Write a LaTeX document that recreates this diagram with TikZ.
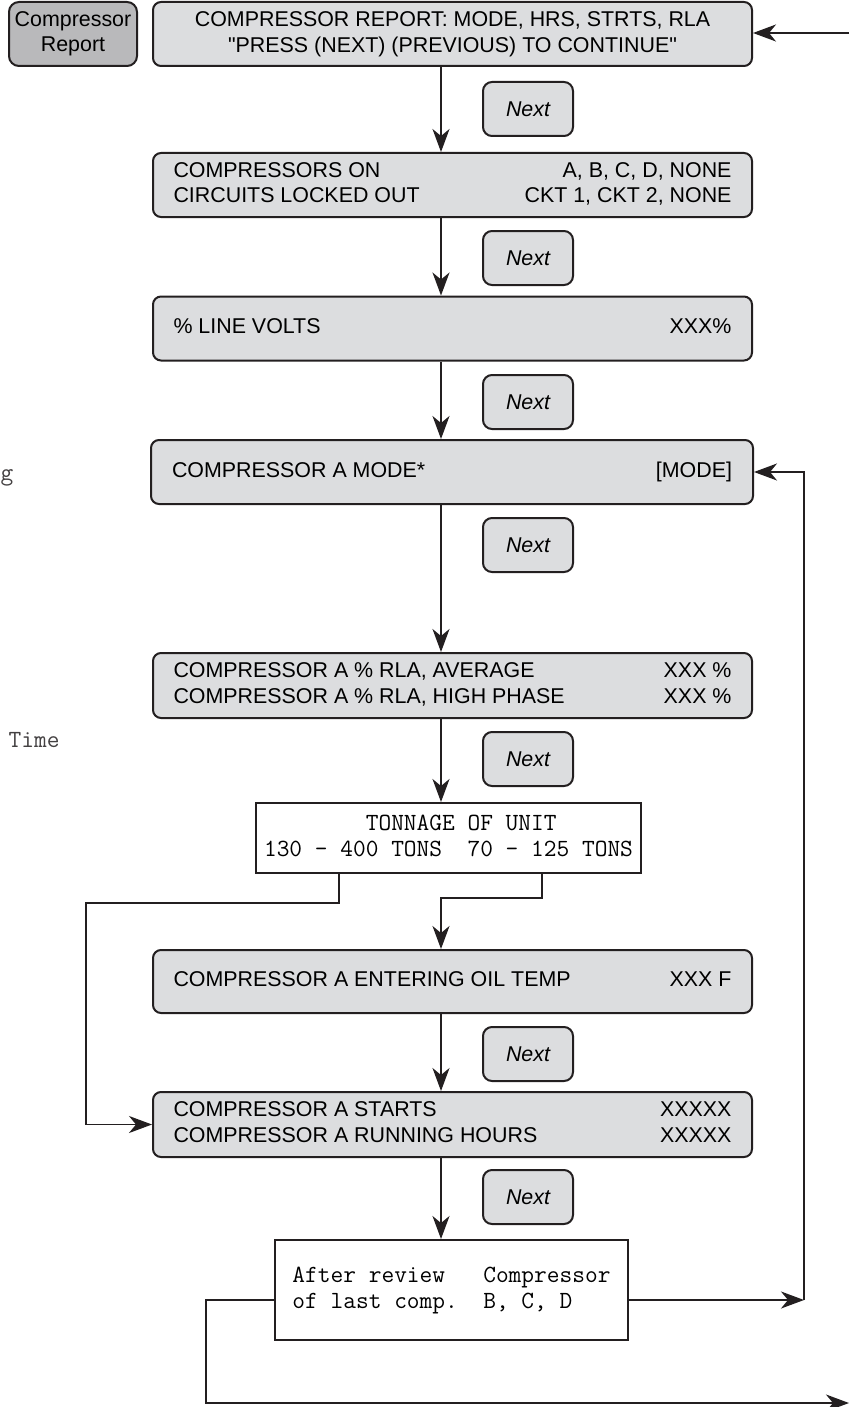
\documentclass[tikz,border=0pt]{standalone}
\usepackage{fontspec}
\usetikzlibrary{arrows.meta}
\newfontfamily\sansf{Liberation Sans}
\newcommand\bodyfnt{\sansf\fontsize{21.4}{25.5}\selectfont}
\newcommand\monofnt{\ttfamily\fontsize{24.7}{26}\selectfont}
\newcommand\twocol[1]{\begin{tabular*}{558pt}{@{}l@{\extracolsep{\fill}}r@{}}#1\end{tabular*}}
\definecolor{ink}{RGB}{35,31,32}
\definecolor{boxgray}{RGB}{220,221,223}
\definecolor{btngray}{RGB}{185,185,187}
\tikzset{
  box/.style={draw=ink, line width=2pt, fill=boxgray, rounded corners=8pt,
    minimum width=599pt, minimum height=64pt, inner sep=0pt, font=\bodyfnt},
  nextbtn/.style={draw=ink, line width=2pt, fill=boxgray, rounded corners=9pt,
    minimum width=90pt, minimum height=54pt, inner sep=0pt, font=\bodyfnt\itshape},
  btn/.style={draw=ink, line width=2pt, fill=btngray, rounded corners=10pt,
    minimum width=128pt, minimum height=64pt, inner sep=0pt, align=center, font=\bodyfnt},
  wbox/.style={draw=ink, line width=2pt, fill=white, inner ysep=0pt, font=\monofnt},
  conn/.style={draw=ink, line width=1.8pt},
  arr/.style={conn, -{Stealth[length=23pt,width=17pt,inset=7pt]}},
  margintext/.style={inner sep=0pt, font=\monofnt, text=ink!85}
}
\begin{document}
\begin{tikzpicture}[x=1pt,y=-1pt]
\useasboundingbox (0,0) rectangle (849,1407);
\clip (0,0) rectangle (849,1407);
\fill[white] (0,0) rectangle (849,1407);

% margin fragments
\node[margintext, anchor=base west] (mg) at (0.5,480) {g};
\node[margintext, anchor=base west] (mt) at (8.5,747) {Time};

% button
\node[btn] (rep) at (73,34) {Compressor\\Report};

% main boxes
\node[box, align=center] (b1) at (452.5,34)
  {COMPRESSOR REPORT: MODE, HRS, STRTS, RLA\\"PRESS (NEXT) (PREVIOUS) TO CONTINUE"};
\node[box] (b2) at (452.5,185)
  {\twocol{COMPRESSORS ON & A, B, C, D, NONE\\CIRCUITS LOCKED OUT & CKT 1, CKT 2, NONE}};
\node[box] (b3) at (452.5,328.5)
  {\twocol{\% LINE VOLTS & XXX\%}};
\node[box, minimum width=602pt] (b4) at (452,472)
  {\begin{tabular*}{560pt}{@{}l@{\extracolsep{\fill}}r@{}}COMPRESSOR A MODE* & [MODE]\end{tabular*}};
\node[box, minimum height=65pt] (b5) at (452.5,685.5)
  {\twocol{COMPRESSOR A \% RLA, AVERAGE & XXX \%\\COMPRESSOR A \% RLA, HIGH PHASE & XXX \%}};
\node[wbox, anchor=west, minimum height=70pt, minimum width=385pt, inner xsep=4pt] (ton) at (255,838)
  {\begin{tabular}{@{}l@{}}\hphantom{00000000}TONNAGE OF UNIT\\130 - 400 TONS\ \ 70 - 125 TONS\end{tabular}};
\node[box, minimum height=63pt] (b6) at (452.5,981.5)
  {\twocol{COMPRESSOR A ENTERING OIL TEMP & XXX F}};
\node[box, minimum height=65pt] (b7) at (452.5,1124.5)
  {\twocol{COMPRESSOR A STARTS & XXXXX\\COMPRESSOR A RUNNING HOURS & XXXXX}};
\node[wbox, anchor=west, minimum height=100pt, minimum width=353pt, inner xsep=13pt] (aft) at (274,1290)
  {\begin{tabular}{@{}l@{}}After review\ \ \ Compressor\\of last comp.\ \ B, C, D\end{tabular}};

% next buttons
\node[nextbtn] (n1) at (528,109) {Next};
\node[nextbtn] (n2) at (528,258) {Next};
\node[nextbtn] (n3) at (528,402) {Next};
\node[nextbtn] (n4) at (528,545) {Next};
\node[nextbtn] (n5) at (528,759) {Next};
\node[nextbtn] (n6) at (528,1054) {Next};
\node[nextbtn] (n7) at (528,1197) {Next};

% coordinates
\coordinate (cx) at (441,0);
\coordinate (in1) at (849,33);
\coordinate (r1) at (804,1300);
\coordinate (bl1) at (206,1300);
\coordinate (bl2) at (206,1403);
\coordinate (out2) at (849,1403);
\coordinate (t1) at (339,903);
\coordinate (t2) at (86,903);
\coordinate (t3) at (542,898);

% connectors
\draw[arr] (in1) -- (in1 -| b1.east);
\draw[arr] (b1.south -| cx) -- (b2.north -| cx);
\draw[arr] (b2.south -| cx) -- (b3.north -| cx);
\draw[arr] (b3.south -| cx) -- (b4.north -| cx);
\draw[arr] (b4.south -| cx) -- (b5.north -| cx);
\draw[arr] (b5.south -| cx) -- (ton.north -| cx);
\draw[arr] (ton.south -| t1) -- (t1) -- (t2) -- (t2 |- b7.west) -- (b7.west);
\draw[arr] (ton.south -| t3) -- (t3) -- (t3 -| cx) -- (b6.north -| cx);
\draw[arr] (b6.south -| cx) -- (b7.north -| cx);
\draw[arr] (b7.south -| cx) -- (aft.north -| cx);
\draw[arr] (aft.east |- r1) -- (r1);
\draw[arr] (r1) -- (r1 |- b4.east) -- (b4.east);
\draw[arr] (aft.west |- bl1) -- (bl1) -- (bl2) -- (out2);
\end{tikzpicture}
\end{document}
